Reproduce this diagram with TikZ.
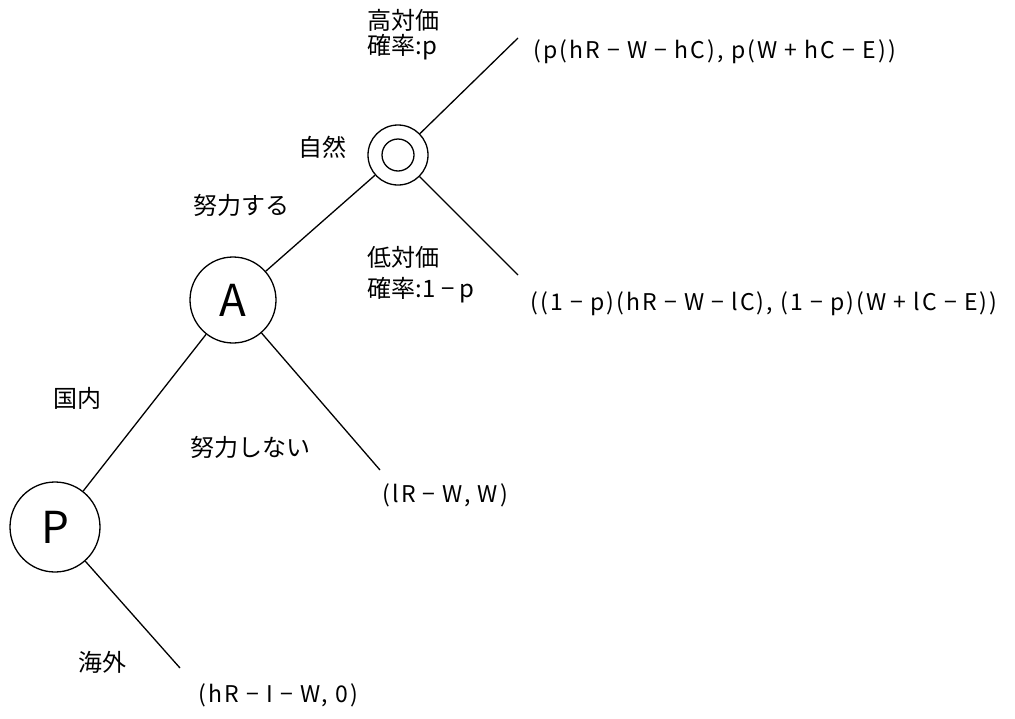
\documentclass[tikz,border=0pt]{standalone}
\usepackage{fontspec}
\newfontfamily\cjk{Noto Sans CJK JP}
\newfontfamily\cjkwide{Noto Sans CJK JP}[LetterSpace=9]
\begin{document}
\begin{tikzpicture}[x=1pt,y=-1pt,line width=1.3pt,
  lbl/.style={anchor=west,inner sep=0,font=\cjk\fontsize{24}{27}\selectfont,align=left},
  pay/.style={anchor=west,inner sep=0,font=\cjkwide\fontsize{23}{26}\selectfont},
  player/.style={circle,draw,inner sep=0,font=\cjk\fontsize{44}{48}\selectfont}]
\useasboundingbox (0,0) rectangle (1015,718);
\node[player,minimum size=90pt] (P) at (55,527) {P};
\node[player,minimum size=86pt] (A) at (233,300) {A};
\node[circle,draw,minimum size=60pt,inner sep=0] (N) at (398,155) {};
\node[circle,draw,minimum size=32pt,inner sep=0] (Ni) at (398,155) {};
\coordinate (hi) at (518,38);
\coordinate (lo) at (518,275);
\coordinate (ne) at (380,470);
\coordinate (ov) at (180,668);
\draw (P) -- (A);
\draw (A) -- (N);
\draw (N) -- (hi);
\draw (N) -- (lo);
\draw (A) -- (ne);
\draw (P) -- (ov);
\node[lbl] (l1) at (367,20) {高対価};
\node[lbl] (l2) at (367,47) {確率:p};
\node[pay] (p1) at (533,52) {(p(hR − W − hC), p(W + hC − E))};
\node[lbl] (l3) at (298,147) {自然};
\node[lbl] (l4) at (193,205) {努力する};
\node[lbl] (l5) at (367,257) {低対価};
\node[lbl] (l6) at (367,290) {確率:1 − p};
\node[pay] (p2) at (530,304) {((1 − p)(hR − W − lC), (1 − p)(W + lC − E))};
\node[lbl] (l7) at (53,398) {国内};
\node[lbl] (l8) at (190,447) {努力しない};
\node[pay] (p3) at (382,495) {(lR − W, W)};
\node[lbl] (l9) at (78,662) {海外};
\node[pay] (p4) at (198,695) {(hR − I − W, 0)};
\end{tikzpicture}
\end{document}
